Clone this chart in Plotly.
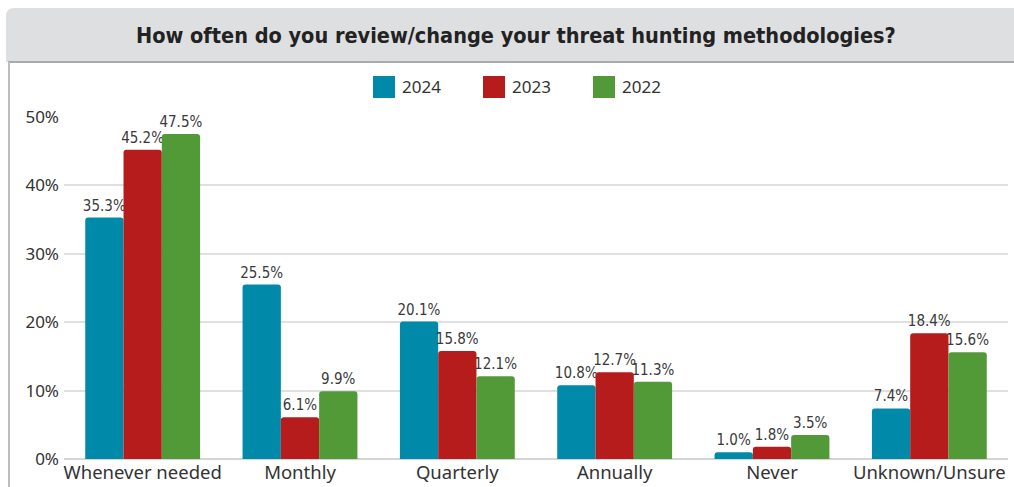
import plotly.graph_objects as go

categories = ["Whenever needed", "Monthly", "Quarterly", "Annually", "Never", "Unknown/Unsure"]
years = ["2024", "2023", "2022"]
values_2024 = [35.3, 25.5, 20.1, 10.8, 1.0, 7.4]
values_2023 = [45.2, 6.1, 15.8, 12.7, 1.8, 18.4]
values_2022 = [47.5, 9.9, 12.1, 11.3, 3.5, 15.6]
colors = ["#0089A8", "#B71C1C", "#529A38"]
y_ticks = [0, 10, 20, 30, 40, 50]
title_text = "How often do you review/change your threat hunting methodologies?"

W, H = 1014, 487
ML, MR, MT, MB = 64, 6, 117, 28

def px(x):
    return (x - ML) / (W - ML - MR)

def py(y):
    return (H - MB - y) / (H - MT - MB)

fig = go.Figure()
for name, vals, col in zip(years, [values_2024, values_2023, values_2022], colors):
    fig.add_trace(go.Bar(
        x=categories, y=vals, name=name, marker_color=col,
        marker_line_width=0,
        text=[f"{v:.1f}%" for v in vals], textposition="outside",
        constraintext="none",
        textfont=dict(family="DejaVu Sans Condensed", size=15, color="#3a3a3a"),
        cliponaxis=False, showlegend=False,
    ))

shapes = [
    # header band
    dict(type="path", xref="paper", yref="paper",
         path=f"M {px(6)} {py(62)} L {px(6)} {py(16)} Q {px(6)} {py(8)} {px(14)} {py(8)} L {px(1014)} {py(8)} L {px(1014)} {py(62)} Z",
         fillcolor="#DEDFE1", line_width=0, layer="below"),
    dict(type="line", xref="paper", yref="paper", x0=px(8), x1=px(1014), y0=py(62), y1=py(62),
         line=dict(color="#A9AAAC", width=2)),
    dict(type="line", xref="paper", yref="paper", x0=px(9), x1=px(9), y0=py(62), y1=py(487),
         line=dict(color="#BDBDBD", width=2)),
]
annotations = [
    dict(text=f"<b>{title_text}</b>", xref="paper", yref="paper", x=px(516), y=py(35),
         showarrow=False, xanchor="center", yanchor="middle",
         font=dict(family="DejaVu Sans Condensed", size=21.5, color="#222")),
]
leg_x = [373, 483, 593]
for yr, col, lx in zip(years, colors, leg_x):
    shapes.append(dict(type="rect", xref="paper", yref="paper", x0=px(lx), x1=px(lx + 22),
                       y0=py(98), y1=py(76), fillcolor=col, line_width=0))
    annotations.append(dict(text=yr, xref="paper", yref="paper", x=px(lx + 27), y=py(87),
                            showarrow=False, xanchor="left", yanchor="middle",
                            font=dict(family="Noto Sans", size=17, color="#333")))

fig.update_layout(
    width=W, height=H, margin=dict(l=ML, r=MR, t=MT, b=MB),
    paper_bgcolor="white", plot_bgcolor="white",
    barmode="group", bargap=0.27, bargroupgap=0.0,
    barcornerradius=3,
    shapes=shapes, annotations=annotations,
    xaxis=dict(showgrid=False, showline=False, ticks="", automargin=False,
               ticklabelstandoff=0,
               tickfont=dict(family="Noto Sans", size=18.5, color="#333")),
    yaxis=dict(range=[0, 50], tickvals=y_ticks, ticktext=[f"{t}%" for t in y_ticks],
               showgrid=True, gridcolor="#E0E0E0", gridwidth=2, zeroline=True,
               zerolinecolor="#D5D5D5", zerolinewidth=2, showline=False, ticks="",
               automargin=False,
               tickfont=dict(family="Noto Sans", size=17, color="#333"), ticklabelstandoff=4),
    font=dict(family="Noto Sans"),
)

fig.write_html("out.html")
